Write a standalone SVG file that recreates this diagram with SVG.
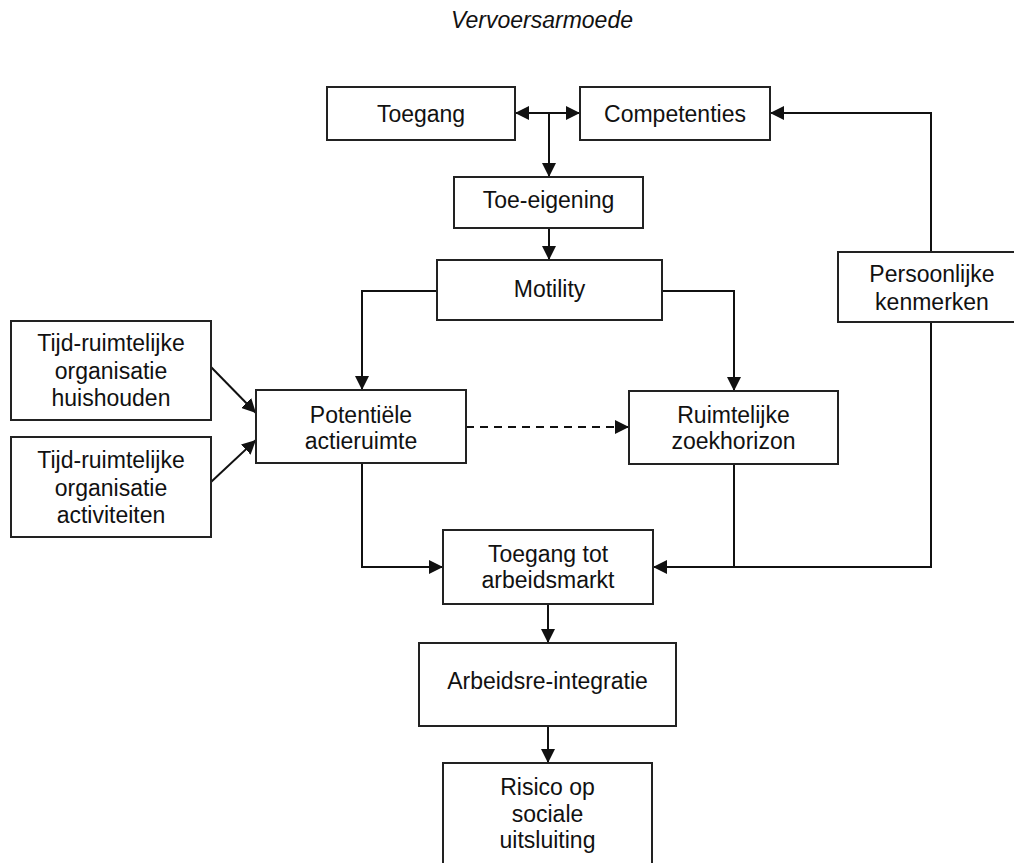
<svg xmlns="http://www.w3.org/2000/svg" width="1014" height="863" viewBox="0 0 1014 863">
<style>
.box{fill:#fff;stroke:#222;stroke-width:2}
.t{font-family:"Liberation Sans",Arial,sans-serif;font-size:23px;fill:#111;text-anchor:middle}
.c{fill:none;stroke:#111;stroke-width:2}
.d{stroke-dasharray:8,6}
</style>
<defs>
<marker id="ah" viewBox="0 0 14 14" refX="14" refY="7" markerWidth="14" markerHeight="14" markerUnits="userSpaceOnUse" orient="auto-start-reverse">
<path d="M0,0 L14,7 L0,14 z" fill="#111"/>
</marker>
</defs>
<rect width="1014" height="863" fill="#fff"/>
<text class="t" x="542" y="28" font-style="italic" font-size="23.5">Vervoersarmoede</text>

<g id="connectors">
<path class="c" d="M515,113 L580,113" marker-start="url(#ah)" marker-end="url(#ah)"/>
<path class="c" d="M549,113 L549,177" marker-end="url(#ah)"/>
<path class="c" d="M549,228 L549,260" marker-end="url(#ah)"/>
<path class="c" d="M437,291 L362,291 L362,390" marker-end="url(#ah)"/>
<path class="c" d="M662,291 L734,291 L734,391" marker-end="url(#ah)"/>
<path class="c d" d="M466,427 L629,427" marker-end="url(#ah)"/>
<path class="c" d="M211,367 L256,413" marker-end="url(#ah)"/>
<path class="c" d="M211,482 L256,440" marker-end="url(#ah)"/>
<path class="c" d="M362,463 L362,567 L443,567" marker-end="url(#ah)"/>
<path class="c" d="M734,464 L734,567"/>
<path class="c" d="M931,322 L931,567 L653,567" marker-end="url(#ah)"/>
<path class="c" d="M931,252 L931,113 L770,113" marker-end="url(#ah)"/>
<path class="c" d="M548,604 L548,643" marker-end="url(#ah)"/>
<path class="c" d="M548,726 L548,763" marker-end="url(#ah)"/>
</g>

<g id="toegang"><rect class="box" x="327" y="87" width="188" height="53"/><text class="t" x="421" y="122">Toegang</text></g>
<g id="competenties"><rect class="box" x="580" y="87" width="190" height="53"/><text class="t" x="675" y="122">Competenties</text></g>
<g id="toe-eigening"><rect class="box" x="454" y="177" width="189" height="51"/><text class="t" x="548.5" y="208">Toe-eigening</text></g>
<g id="motility"><rect class="box" x="437" y="260" width="225" height="60"/><text class="t" x="549.5" y="297">Motility</text></g>
<g id="persoonlijke"><rect class="box" x="838" y="252" width="188" height="70"/><text class="t" x="932" y="282">Persoonlijke</text><text class="t" x="932" y="310">kenmerken</text></g>
<g id="tijd-huishouden"><rect class="box" x="11" y="321" width="200" height="99"/><text class="t" x="111" y="351">Tijd-ruimtelijke</text><text class="t" x="111" y="378.5">organisatie</text><text class="t" x="111" y="406">huishouden</text></g>
<g id="tijd-activiteiten"><rect class="box" x="11" y="437" width="200" height="100"/><text class="t" x="111" y="468">Tijd-ruimtelijke</text><text class="t" x="111" y="495.5">organisatie</text><text class="t" x="111" y="523">activiteiten</text></g>
<g id="potentiele"><rect class="box" x="256" y="390" width="210" height="73"/><text class="t" x="361" y="423">Potentiële</text><text class="t" x="361" y="449">actieruimte</text></g>
<g id="ruimtelijke"><rect class="box" x="629" y="391" width="209" height="73"/><text class="t" x="733.5" y="423">Ruimtelijke</text><text class="t" x="733.5" y="449">zoekhorizon</text></g>
<g id="toegang-arbeidsmarkt"><rect class="box" x="443" y="530" width="210" height="74"/><text class="t" x="548" y="562">Toegang tot</text><text class="t" x="548" y="588">arbeidsmarkt</text></g>
<g id="arbeidsre-integratie"><rect class="box" x="419" y="643" width="257" height="83"/><text class="t" x="547.5" y="689">Arbeidsre-integratie</text></g>
<g id="risico"><rect class="box" x="443" y="763" width="209" height="110"/><text class="t" x="547.5" y="795">Risico op</text><text class="t" x="547.5" y="822">sociale</text><text class="t" x="547.5" y="848">uitsluiting</text></g>
</svg>
